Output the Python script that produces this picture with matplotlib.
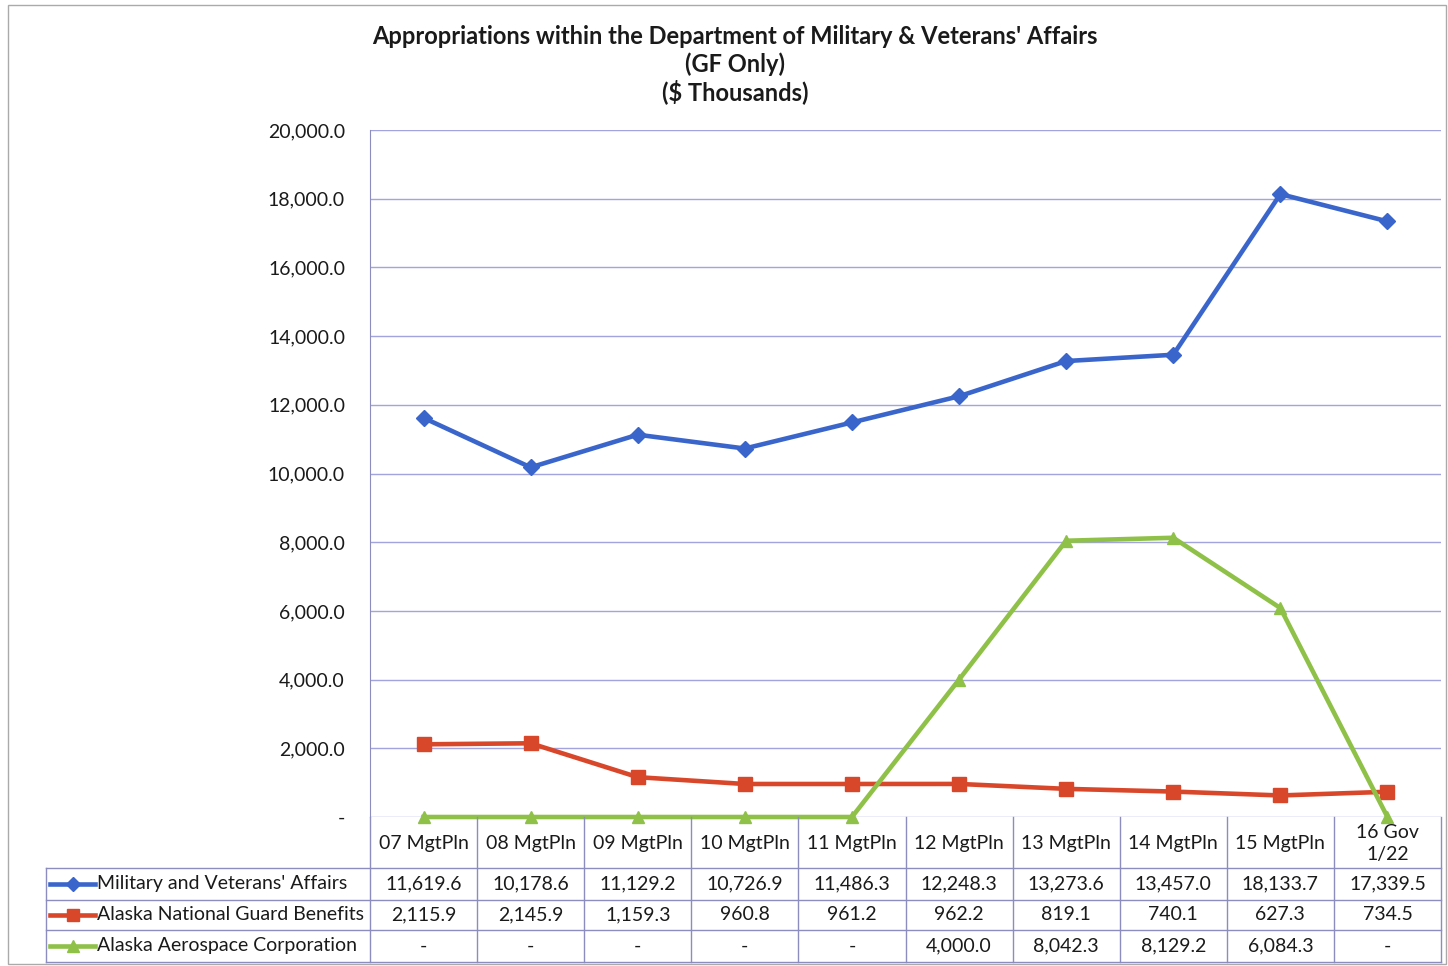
import matplotlib
matplotlib.use('Agg')
from matplotlib import pyplot as plt
from matplotlib.transforms import blended_transform_factory
from matplotlib.patches import Rectangle
from matplotlib.lines import Line2D

categories = ['07 MgtPln', '08 MgtPln', '09 MgtPln', '10 MgtPln', '11 MgtPln',
              '12 MgtPln', '13 MgtPln', '14 MgtPln', '15 MgtPln', '16 Gov\n1/22']
military = [11619.6, 10178.6, 11129.2, 10726.9, 11486.3,
            12248.3, 13273.6, 13457.0, 18133.7, 17339.5]
guard = [2115.9, 2145.9, 1159.3, 960.8, 961.2,
         962.2, 819.1, 740.1, 627.3, 734.5]
aerospace = [0, 0, 0, 0, 0, 4000.0, 8042.3, 8129.2, 6084.3, 0]
series_names = ["Military and Veterans' Affairs",
                'Alaska National Guard Benefits',
                'Alaska Aerospace Corporation']
yticks = [0, 2000, 4000, 6000, 8000, 10000, 12000, 14000, 16000, 18000, 20000]

plt.rcParams['font.family'] = ['Lato', 'DejaVu Sans']

W, H = 1448, 966
fig = plt.figure(figsize=(W / 100, H / 100), dpi=100)
fig.patch.set_facecolor('white')


def fy(py):
    return 1 - py / H


def fx(px):
    return px / W


txt_c = '#1a1a1a'
fs = 14
left, right, top, bottom = 370, 1441, 130, 817
ax = fig.add_axes([fx(left), fy(bottom), fx(right) - fx(left), fy(top) - fy(bottom)])

grid_c = '#a3a3dd'
edge_c = '#8c8cbf'
colors = ['#3a66cc', '#d9472b', '#8fc148']
markers = ['D', 's', '^']
msizes = [8, 10, 9]
data = [military, guard, aerospace]

x = list(range(len(categories)))
for vals, c, m, ms in zip(data, colors, markers, msizes):
    ax.plot(x, vals, color=c, lw=3.3, marker=m, ms=ms, mec=c, mfc=c, zorder=3,
            clip_on=False)

ax.set_xlim(-0.5, len(categories) - 0.5)
ax.set_ylim(0, 20000)
ax.set_yticks(yticks)
ax.set_yticklabels(['-' if v == 0 else f'{v:,.1f}' for v in yticks],
                   fontsize=fs, color=txt_c)
ax.tick_params(axis='y', length=0, pad=18)
ax.set_xticks([])
ax.grid(axis='y', color=grid_c, lw=1)
ax.set_axisbelow(True)
for s in ['top', 'right', 'bottom']:
    ax.spines[s].set_visible(False)
ax.spines['left'].set_color(edge_c)

# title
title_lines = ["Appropriations within the Department of Military & Veterans' Affairs",
               '(GF Only)', '($ Thousands)']
for ty, t in zip([36, 64, 92], title_lines):
    fig.text(fx(735), fy(ty), t, ha='center', va='center', fontsize=17,
             fontweight='bold', color=txt_c)

# data table
tr = blended_transform_factory(ax.transData, fig.transFigure)
header_top, header_bot = 817, 868
row_edges = [868, 900, 930, 962]
tab_left = 46

for i in range(len(categories) + 1):
    xb = i - 0.5
    fig.add_artist(Line2D([xb, xb], [fy(header_top), fy(row_edges[-1])], transform=tr,
                          color=edge_c, lw=1))
for ry in row_edges:
    fig.add_artist(Line2D([fx(tab_left), fx(right)], [fy(ry), fy(ry)],
                          transform=fig.transFigure, color=edge_c, lw=1))
fig.add_artist(Line2D([fx(tab_left), fx(tab_left)], [fy(row_edges[0]), fy(row_edges[-1])],
                      transform=fig.transFigure, color=edge_c, lw=1))

for i, cat in enumerate(categories):
    fig.text(i, fy((header_top + header_bot) / 2 + 1), cat, transform=tr,
             ha='center', va='center', fontsize=fs, color=txt_c, linespacing=1.35)

for r, (vals, name, c, m, ms) in enumerate(zip(data, series_names, colors, markers, msizes)):
    yc = fy((row_edges[r] + row_edges[r + 1]) / 2)
    fig.add_artist(Line2D([fx(50), fx(95)], [yc, yc], transform=fig.transFigure,
                          color=c, lw=3.3))
    fig.add_artist(Line2D([fx(72.5)], [yc], transform=fig.transFigure, color=c,
                          marker=m, ms=ms - 1, mec=c, mfc=c))
    fig.text(fx(97), yc, name, ha='left', va='center', fontsize=fs, color=txt_c)
    for i, v in enumerate(vals):
        fig.text(i, yc, '-' if v == 0 else f'{v:,.1f}', transform=tr,
                 ha='center', va='center', fontsize=fs, color=txt_c)

# outer frame
fig.add_artist(Rectangle((fx(8), fy(964)), fx(1446) - fx(8), fy(5) - fy(964),
                         transform=fig.transFigure, fill=False, ec='#aaaaaa', lw=1))

fig.savefig('out.png', dpi=100)
